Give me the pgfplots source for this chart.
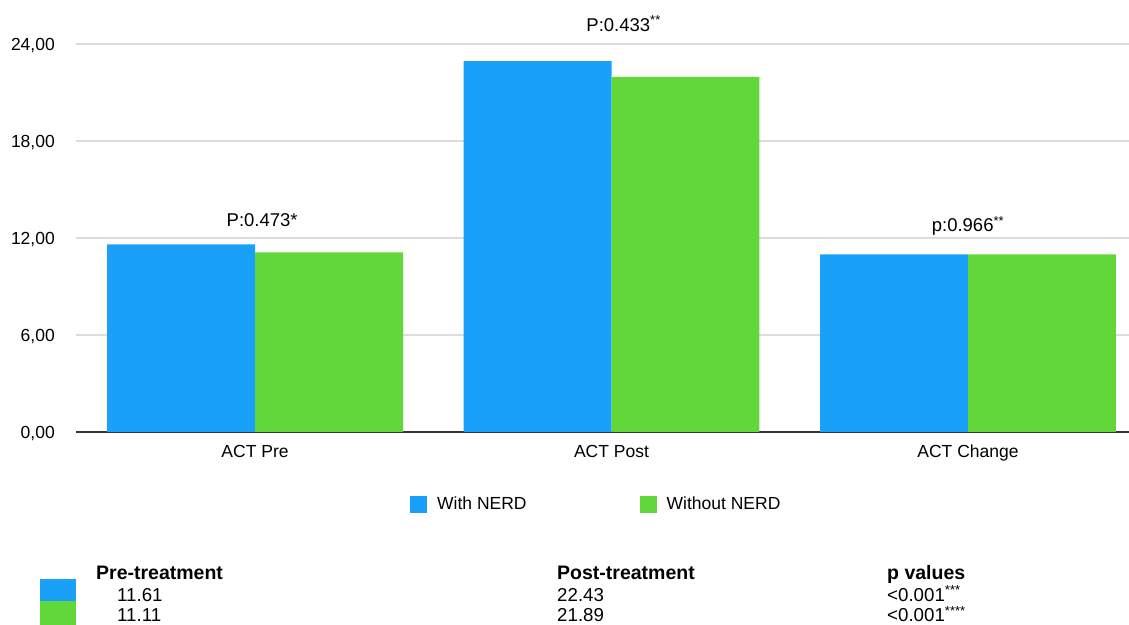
\documentclass[border=0pt]{standalone}
\usepackage{pgfplots}
\pgfplotsset{compat=1.18}
\usepackage{fontspec}
\setmainfont{Liberation Sans}
\definecolor{cblue}{RGB}{25,161,250}
\definecolor{cgreen}{RGB}{98,215,57}
\definecolor{gridgray}{RGB}{220,220,220}
\newcommand{\cf}{\fontsize{17.5bp}{21bp}\selectfont}
\newcommand{\pf}{\fontsize{18.5bp}{22bp}\selectfont}
\newcommand{\tf}{\fontsize{18.7bp}{22bp}\selectfont}
\newcommand{\hf}{\fontsize{19.5bp}{22bp}\selectfont\bfseries}
\begin{document}
\begin{tikzpicture}
\begin{axis}[
  at={(76bp,193bp)}, anchor=south west,
  scale only axis, width=1053bp, height=388bp,
  ybar=0pt, bar width=0.4151,
  xmin=-0.5022, xmax=2.4516,
  ymin=0, ymax=24,
  ytick={0,6,12,18,24},
  xtick={0,1,2},
  xticklabels={ACT Pre, ACT Post, ACT Change},
  axis x line*=bottom, axis y line*=left,
  y axis line style={draw=none},
  x axis line style={draw=black!80, line width=1.6bp},
  major tick length=0pt,
  ymajorgrids, grid style={gridgray, line width=1.2bp},
  /pgf/number format/.cd, fixed, fixed zerofill, precision=2, use comma, assume math mode=true,
  /pgfplots/.cd,
  yticklabel style={font=\cf, anchor=base east, inner sep=0pt, xshift=-21bp, yshift=-6.3bp},
  xticklabel style={font=\cf, anchor=base, inner sep=0pt, yshift=-26bp},
  clip=false,
  legend columns=2,
  legend style={font=\cf, draw=none, fill=none, inner sep=0pt,
    at={(axis description cs:0.3172,-0.1856)}, anchor=west,
    nodes={inner sep=0pt},
    /tikz/every odd column/.append style={column sep=10bp},
    /tikz/every even column/.append style={column sep=113bp}},
  legend image code/.code={\fill[#1] (0bp,-8.5bp) rectangle (17bp,8.5bp);},
]
\addplot[fill=cblue, draw=none] coordinates {(0,11.61) (1,22.94) (2,10.99)};
\addplot[fill=cgreen, draw=none] coordinates {(0,11.11) (1,21.96) (2,10.99)};
\legend{With NERD, Without NERD}
\node[font=\pf, anchor=base, inner sep=0pt] at (axis cs:0.02,12.72) {P:0.473*};
\node[font=\pf, anchor=base, inner sep=0pt] at (axis cs:1.034,24.79) {P:0.433\textsuperscript{**}};
\node[font=\pf, anchor=base, inner sep=0pt] at (axis cs:2.0,12.41) {p:0.966\textsuperscript{**}};
\end{axis}
% summary table below the chart
\fill[cblue] (39.5bp,{(625-601.5)*1bp}) rectangle (76bp,{(625-579)*1bp});
\fill[cgreen] (39.5bp,0bp) rectangle (76bp,{(625-601.5)*1bp});
\node[font=\hf, anchor=base west, inner sep=0pt] at (96bp,{(625-579)*1bp}) {Pre-treatment};
\node[font=\tf, anchor=base west, inner sep=0pt] at (117bp,{(625-601)*1bp}) {11.61};
\node[font=\tf, anchor=base west, inner sep=0pt] at (117bp,{(625-621.5)*1bp}) {11.11};
\node[font=\hf, anchor=base west, inner sep=0pt] at (557bp,{(625-579)*1bp}) {Post-treatment};
\node[font=\tf, anchor=base west, inner sep=0pt] at (557bp,{(625-601)*1bp}) {22.43};
\node[font=\tf, anchor=base west, inner sep=0pt] at (557bp,{(625-621.5)*1bp}) {21.89};
\node[font=\hf, anchor=base west, inner sep=0pt] at (887bp,{(625-579)*1bp}) {p values};
\node[font=\tf, anchor=base west, inner sep=0pt] at (887bp,{(625-601)*1bp}) {<0.001\textsuperscript{***}};
\node[font=\tf, anchor=base west, inner sep=0pt] at (887bp,{(625-621.5)*1bp}) {<0.001\textsuperscript{****}};
\pgfresetboundingbox
\path[use as bounding box] (0bp,0bp) rectangle (1129bp,625bp);
\end{tikzpicture}
\end{document}
